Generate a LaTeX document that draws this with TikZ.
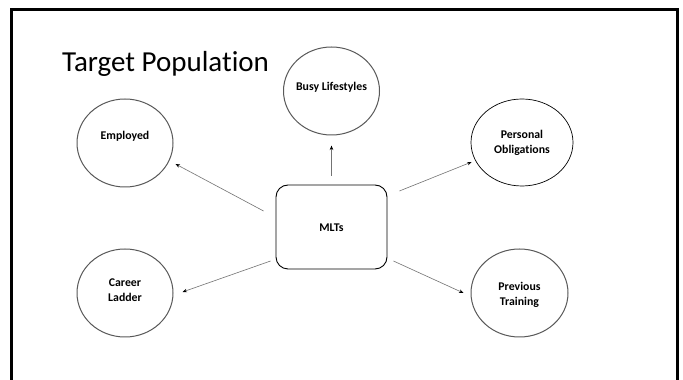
\documentclass[tikz,border=0pt]{standalone}
\usepackage{fontspec}
\setmainfont{Carlito}[Ligatures=NoCommon]
\usetikzlibrary{shapes.geometric,arrows.meta}
\begin{document}
\begin{tikzpicture}[x=1pt,y=1pt,
  bubble/.style={draw=black!65,line width=1pt,ellipse,inner sep=0pt,
    minimum width=96pt,minimum height=88pt},
  lbl/.style={font=\fontsize{11.8}{15}\selectfont\bfseries,align=center,inner sep=0pt},
  hub/.style={draw=black,line width=0.9pt,rounded corners=12pt,
    minimum width=111pt,minimum height=84pt,inner sep=0pt},
  conn/.style={draw=black!55,line width=0.6pt,
    -{Stealth[length=4.5pt,width=3.5pt,color=black]}}]
\useasboundingbox (0,0) rectangle (683,380);
\fill[white] (0,0) rectangle (683,380);
\draw[line width=3pt] (11.5,-3) -- (11.5,370.5) -- (677.5,370.5) -- (677.5,-3);
\node[anchor=base west,inner sep=0pt,font=\fontsize{29}{34}\selectfont] (title) at (62,308.5) {Target Population};
% nodes
\node[hub] (mlt) at (331.5,153) {};
\node[lbl] (mltt) at (331.5,152) {MLTs};
\node[bubble] (busy) at (331.5,289) {};
\node[lbl] (busyt) at (331.5,293) {Busy Lifestyles};
\node[bubble] (emp) at (125,237) {};
\node[lbl] (empt) at (125,244) {Employed};
\node[bubble,draw=black,line width=0.7pt,minimum width=102pt,minimum height=87pt] (pers) at (522,237.5) {};
\node[lbl] (perst) at (522,237) {Personal\\Obligations};
\node[bubble] (car) at (125,87) {};
\node[lbl] (cart) at (125,89.5) {Career\\Ladder};
\node[bubble,minimum width=97pt] (prev) at (519.5,87) {};
\node[lbl] (prevt) at (519.5,85.5) {Previous\\Training};
% connectors
\draw[conn] ([shift={(0,9)}]mlt.north) -- ([shift={(0,-10)}]busy.south);
\draw[conn] ([shift={(-12,16)}]mlt.west) -- ([shift={(2,-21)}]emp.east);
\draw[conn] ([shift={(12,36)}]mlt.east) -- ([shift={(1,-19.5)}]pers.west);
\draw[conn] ([shift={(-5,-34)}]mlt.west) -- ([shift={(9,1)}]car.east);
\draw[conn] ([shift={(6,-34)}]mlt.east) -- ([shift={(-7,0)}]prev.west);
\end{tikzpicture}
\end{document}
